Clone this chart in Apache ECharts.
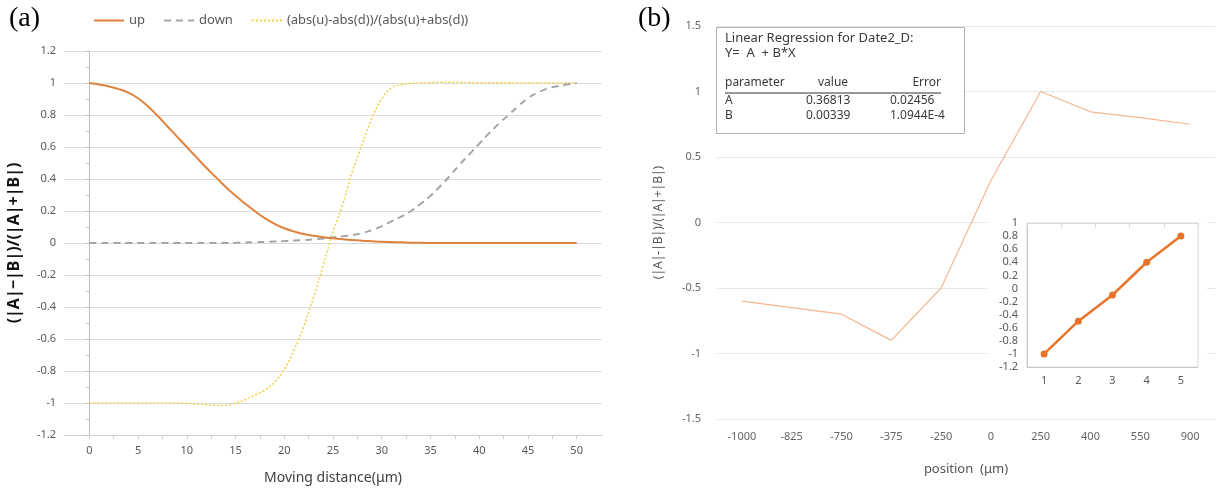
<!DOCTYPE html>
<html>
<head>
<meta charset="utf-8">
<script src="https://cdn.jsdelivr.net/npm/echarts@6/dist/echarts.min.js"></script>
<style>
html, body { margin: 0; padding: 0; background: #fff; }
#main { width: 1218px; height: 490px; }
</style>
</head>
<body>
<div id="main"></div>
<script>
// (a) moving distance in µm
const dist = [0,1,2,3,4,5,6,7,8,9,10,11,12,13,14,15,16,17,18,19,20,21,22,23,24,25,
  26,27,28,29,30,31,32,33,34,35,36,37,38,39,40,41,42,43,44,45,46,47,48,49,50];
const up = [1.0,0.99,0.978,0.962,0.94,0.905,0.855,0.795,0.73,0.665,0.6,0.535,0.47,0.41,0.35,0.295,
  0.245,0.198,0.155,0.12,0.092,0.072,0.056,0.045,0.036,0.029,0.023,0.018,0.014,0.011,0.008,0.006,
  0.004,0.002,0.001,0,0,0,0,0,0,0,0,0,0,0,0,0,0,0,0];
const down = [0,0,0,0,0,0,0,0,0,0,0,0,0,0,0,0.001,0.003,0.005,0.007,0.01,0.012,0.015,0.018,
  0.022,0.028,0.035,0.042,0.05,0.062,0.08,0.105,0.135,0.165,0.2,0.245,0.295,0.355,0.42,0.49,0.555,0.62,
  0.685,0.745,0.8,0.855,0.905,0.94,0.965,0.98,0.99,1.0];
const ratio = [-1,-1,-1,-1,-1,-1,-1,-1,-1,-1,-1.002,-1.005,-1.01,-1.015,-1.015,-1.0,-0.98,-0.95,
  -0.92,-0.87,-0.79,-0.67,-0.52,-0.34,-0.14,0.07,0.24,0.45,0.62,0.78,0.9,0.97,0.99,0.998,1.0,
  1.003,1.005,1.005,1.004,1.003,1.002,1.002,1.001,1.001,1.0,1.0,1.0,1.0,1.0,1.0,1.0];

// (b) position in µm
const positions = ['-1000','-825','-750','-375','-250','0','250','400','550','900'];
const ratioB = [-0.6,-0.65,-0.7,-0.9,-0.5,0.32,1.0,0.845,0.8,0.75];
const insetX = ['1','2','3','4','5'];
const insetY = [-1,-0.5,-0.1,0.4,0.8];
const fitHead = ['parameter','value','Error'];
const fitRows = [['A','0.36813','0.02456'],['B','0.00339','1.0944E-4']];

const font = 'Noto Sans';
const tickColor = '#595959';
const boxText = '#3a3a3a';
const zeroTicks = [];
for (let v = 0; v <= 50; v += 2.5) zeroTicks.push(v);

const pairs = (ys) => dist.map((x, i) => [x, ys[i]]);

// fit table rows
const tableText = [];
fitRows.forEach((r, i) => {
  const top = 95 + i * 15;
  tableText.push({ type: 'text', left: 725, top: top, z: 20,
    style: { text: r[0], font: '12px ' + font, fill: boxText } });
  tableText.push({ type: 'text', left: 806, top: top, z: 20,
    style: { text: r[1], font: '12px ' + font, fill: boxText } });
  tableText.push({ type: 'text', left: 890, top: top, z: 20,
    style: { text: r[2], font: '12px ' + font, fill: boxText } });
});

const chart = echarts.init(document.getElementById('main'));
const option = {
  animation: false,
  textStyle: { fontFamily: font },
  legend: {
    left: 88, top: 9, itemWidth: 30, itemHeight: 12, itemGap: 18,
    itemStyle: { opacity: 0 },
    textStyle: { color: tickColor, fontSize: 13 },
    data: ['up', 'down', '(abs(u)-abs(d))/(abs(u)+abs(d))']
  },
  grid: [
    { left: 64, right: 616, top: 51, bottom: 53 },
    { left: 717, right: 3, top: 26, bottom: 71 },
    { left: 1027, top: 223, width: 171, height: 144, show: true,
      backgroundColor: '#fff', borderColor: '#d9d9d9', borderWidth: 1, z: 6 }
  ],
  xAxis: [
    { gridIndex: 0, type: 'value', min: -2.6, max: 52.6,
      axisLine: { show: false }, axisTick: { show: false }, splitLine: { show: false },
      axisLabel: { customValues: [0,5,10,15,20,25,30,35,40,45,50], color: tickColor, fontSize: 11, margin: 10 },
      name: 'Moving distance(μm)', nameLocation: 'middle', nameGap: 36,
      nameTextStyle: { color: '#404040', fontSize: 14 } },
    { gridIndex: 0, type: 'value', min: -2.6, max: 52.6, position: 'bottom',
      axisLine: { show: true, onZero: true, lineStyle: { color: '#d0d0d0' } },
      axisTick: { show: true, customValues: zeroTicks, length: 4, lineStyle: { color: '#d0d0d0' } },
      axisLabel: { show: false }, splitLine: { show: false } },
    { gridIndex: 1, type: 'category', data: positions, boundaryGap: true,
      axisLine: { show: false }, axisTick: { show: false },
      axisLabel: { color: '#666', fontSize: 11, margin: 12 },
      name: 'position  (μm)', nameLocation: 'middle', nameGap: 44,
      nameTextStyle: { color: '#555', fontSize: 13 } },
    { gridIndex: 2, type: 'category', data: insetX, boundaryGap: true, z: 10,
      axisLine: { onZero: false, lineStyle: { color: '#c8c8c8' } }, axisTick: { show: false },
      axisLabel: { color: tickColor, fontSize: 11, margin: 8 } },
    { gridIndex: 2, type: 'category', data: insetX, boundaryGap: true, position: 'top', z: 10,
      axisLine: { onZero: false, lineStyle: { color: '#d9d9d9' } },
      axisTick: { show: true, inside: true, length: 5, lineStyle: { color: '#d9d9d9' } },
      axisLabel: { show: false } }
  ],
  yAxis: [
    { gridIndex: 0, type: 'value', min: -1.2, max: 1.2, interval: 0.2,
      axisLine: { show: true, lineStyle: { color: '#bfbfbf' } },
      axisTick: { show: true, length: 4, lineStyle: { color: '#bfbfbf' } },
      minorTick: { show: true, splitNumber: 2, length: 3, lineStyle: { color: '#bfbfbf' } },
      axisLabel: { color: tickColor, fontSize: 11, margin: 8 },
      splitLine: { lineStyle: { color: '#dcdcdc' } },
      name: '(|A|−|B|)/(|A|+|B|)', nameLocation: 'middle', nameGap: 42,
      nameTextStyle: { color: '#111', fontSize: 16, fontWeight: 'bold' } },
    { gridIndex: 1, type: 'value', min: -1.5, max: 1.5, interval: 0.5,
      axisLine: { show: false }, axisTick: { show: false },
      axisLabel: { color: '#666', fontSize: 11, margin: 16 },
      splitLine: { lineStyle: { color: '#e6e6e6' } },
      name: '(|A|-|B|)/(|A|+|B|)', nameLocation: 'middle', nameGap: 52,
      nameTextStyle: { color: '#555', fontSize: 12 } },
    { gridIndex: 2, type: 'value', min: -1.2, max: 1, interval: 0.2, z: 10,
      axisLine: { show: true, onZero: false, lineStyle: { color: '#c8c8c8' } }, axisTick: { show: false },
      axisLabel: { color: tickColor, fontSize: 11, margin: 9 },
      splitLine: { show: false } }
  ],
  series: [
    { name: 'up', type: 'line', xAxisIndex: 0, yAxisIndex: 0, data: pairs(up),
      smooth: 0.4, showSymbol: false, z: 5,
      lineStyle: { color: '#E0823F', width: 2 }, itemStyle: { color: '#E0823F' } },
    { name: 'down', type: 'line', xAxisIndex: 0, yAxisIndex: 0, data: pairs(down),
      smooth: 0.4, showSymbol: false, z: 4,
      lineStyle: { color: '#A5A5A5', width: 2, type: [7, 5] }, itemStyle: { color: '#A5A5A5' } },
    { name: '(abs(u)-abs(d))/(abs(u)+abs(d))', type: 'line', xAxisIndex: 0, yAxisIndex: 0,
      data: pairs(ratio), smooth: 0.4, showSymbol: false, z: 3,
      lineStyle: { color: '#F2D04E', width: 1.6, type: [2, 2] }, itemStyle: { color: '#F2D04E' } },
    { type: 'line', xAxisIndex: 2, yAxisIndex: 1, data: ratioB, showSymbol: false, symbol: 'none',
      lineStyle: { color: '#F2B78E', width: 1.2 } },
    { type: 'line', xAxisIndex: 3, yAxisIndex: 2, data: insetY, z: 12,
      symbol: 'circle', symbolSize: 7,
      lineStyle: { color: '#E8742C', width: 2.5 }, itemStyle: { color: '#E8742C' } }
  ],
  graphic: [
    { type: 'text', left: 9, top: 5, style: { text: '(a)', font: '28px "Liberation Serif"', fill: '#000' } },
    { type: 'text', left: 638, top: 5, style: { text: '(b)', font: '28px "Liberation Serif"', fill: '#000' } },
    // white patch behind the inset
    { type: 'rect', left: 987, top: 210, z: 5, shape: { width: 220, height: 190 },
      style: { fill: '#fff' } },
    // regression box
    { type: 'rect', left: 716, top: 27, z: 19, shape: { width: 248, height: 106 },
      style: { fill: '#fff', stroke: '#b0b0b0', lineWidth: 1 } },
    { type: 'text', left: 725, top: 32, z: 20,
      style: { text: 'Linear Regression for Date2_D:', font: '13px ' + font, fill: boxText } },
    { type: 'text', left: 725, top: 47, z: 20,
      style: { text: 'Y=  A  + B*X', font: '13px ' + font, fill: boxText } },
    { type: 'text', left: 725, top: 77, z: 20,
      style: { text: fitHead[0], font: '12px ' + font, fill: boxText } },
    { type: 'text', left: 818, top: 77, z: 20,
      style: { text: fitHead[1], font: '12px ' + font, fill: boxText } },
    { type: 'text', right: 1218 - 941, top: 77, z: 20,
      style: { text: fitHead[2], font: '12px ' + font, fill: boxText, textAlign: 'right' } },
    { type: 'line', z: 20, shape: { x1: 725, y1: 93, x2: 941, y2: 93 },
      style: { stroke: '#333', lineWidth: 1 } }
  ].concat(tableText)
};
chart.setOption(option);
</script>
</body>
</html>
